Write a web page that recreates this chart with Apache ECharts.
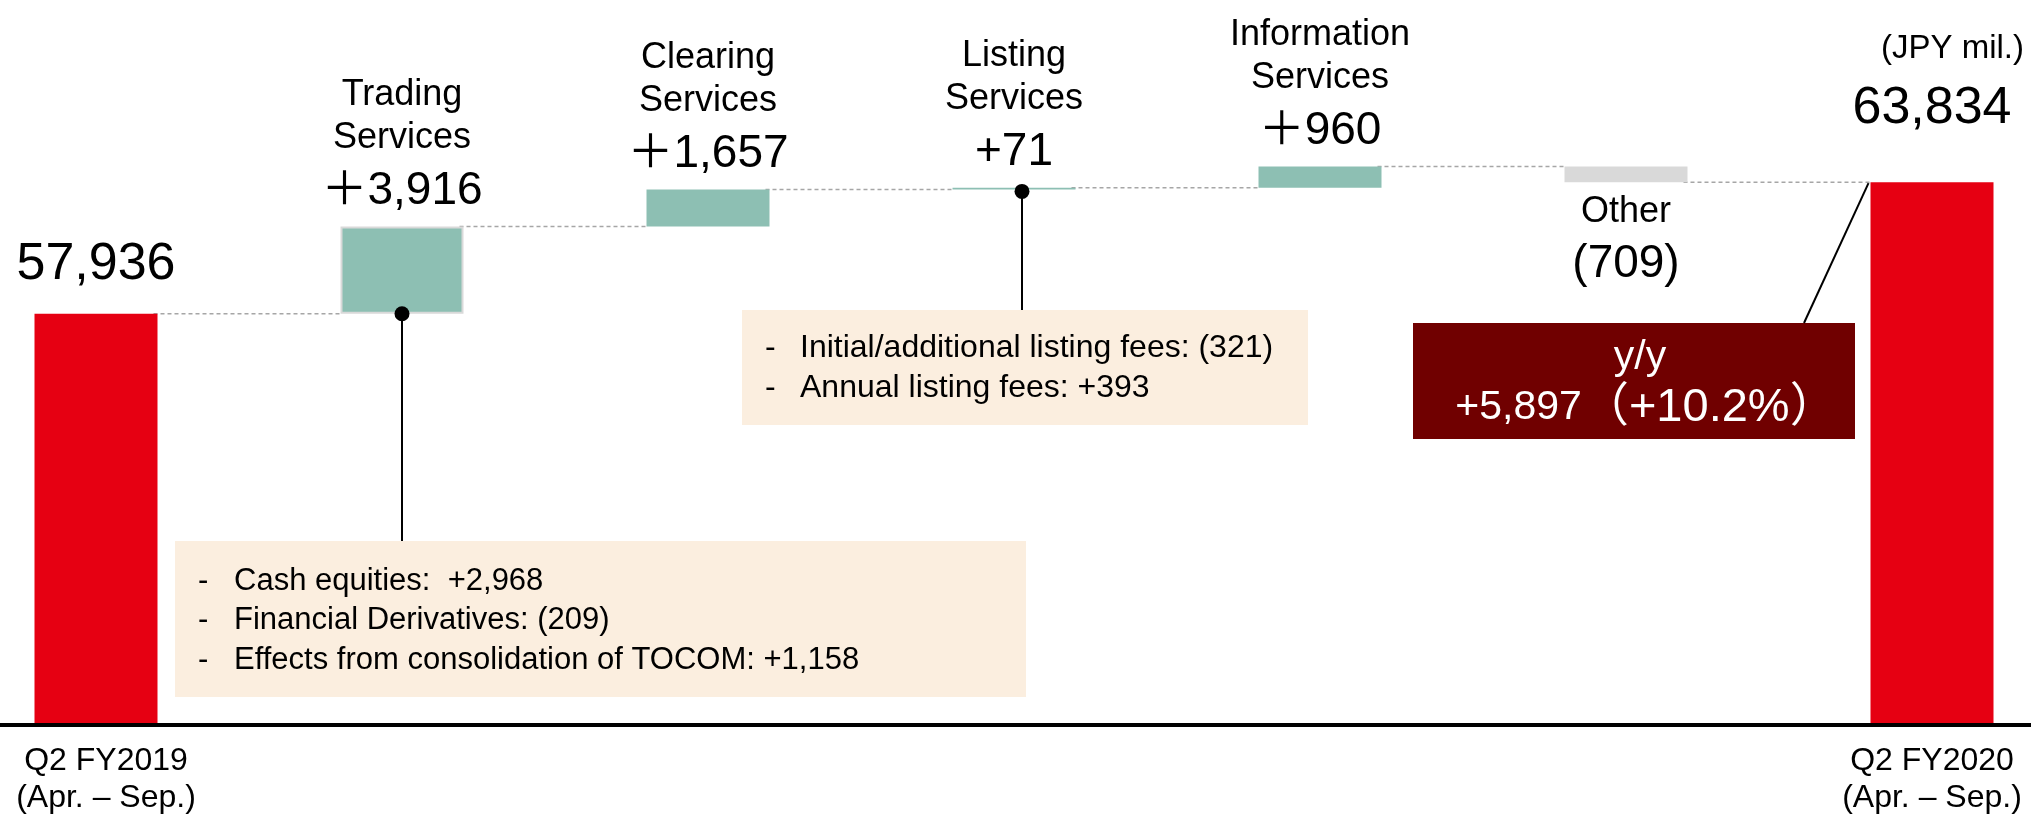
<!DOCTYPE html>
<html>
<head>
<meta charset="utf-8">
<script src="https://cdn.jsdelivr.net/npm/echarts@6/dist/echarts.min.js"></script>
<style>
  html, body { margin: 0; padding: 0; background: #fff; }
  #chart { width: 2031px; height: 816px; }
</style>
</head>
<body>
<div id="chart"></div>
<script>
const categories = ['Q2 FY2019', 'Trading Services', 'Clearing Services', 'Listing Services', 'Information Services', 'Other', 'Q2 FY2020'];
const axisLabelText = ['Q2 FY2019\n(Apr. – Sep.)', '', '', '', '', '', 'Q2 FY2020\n(Apr. – Sep.)'];
const startValue = 57936;
const endValue = 63834;
const deltaValues = [3916, 1657, 71, 960, -709];
const deltaNames = [['Trading', 'Services'], ['Clearing', 'Services'], ['Listing', 'Services'], ['Information', 'Services'], ['Other']];
const deltaText = ['＋3,916', '＋1,657', '+71', '＋960', '(709)'];
const totalText = ['57,936', '63,834'];
const tradingNotes = ['Cash equities:  +2,968', 'Financial Derivatives: (209)', 'Effects from consolidation of TOCOM: +1,158'];
const listingNotes = ['Initial/additional listing fees: (321)', 'Annual listing fees: +393'];
const yoyTitle = 'y/y';
const yoyAmount = '+5,897';
const yoyRate = '（+10.2%）';
const unitText = '(JPY mil.)';

const FONT = "'Liberation Sans', Arial, 'Noto Sans CJK JP', sans-serif";
const RED = '#E60012';
const TEAL = '#8DBFB3';
const GREY = '#D9D9D9';
const BEIGE = '#FBEEDF';
const DARK = '#700000';
const BAR_W = 123;

// running level after each step
const levels = [startValue];
deltaValues.forEach((d, i) => levels.push(levels[i] + d));

const baseData = ['-'];
const deltaData = ['-'];
deltaValues.forEach((d, i) => {
  baseData.push(Math.min(levels[i], levels[i + 1]));
  const neg = d < 0;
  const lines = deltaNames[i].map(n => '{n|' + n + '}');
  lines.push('{v|' + deltaText[i] + '}');
  deltaData.push({
    value: Math.abs(d),
    itemStyle: {
      color: neg ? GREY : TEAL,
      borderColor: i === 0 ? GREY : 'transparent',
      borderWidth: i === 0 ? 2 : 0
    },
    label: {
      position: neg ? 'bottom' : 'top',
      distance: neg ? 8 : 4,
      formatter: lines.join('\n')
    }
  });
});
baseData.push('-');
deltaData.push('-');

const totalData = categories.map(() => '-');
totalData[0] = { value: startValue, label: { distance: 18, formatter: totalText[0] } };
totalData[totalData.length - 1] = { value: endValue, label: { distance: 42, formatter: totalText[1] } };

const connectors = levels.map((lv, i) => [i, lv]);

const chart = echarts.init(document.getElementById('chart'));

chart.setOption({
  animation: false,
  backgroundColor: '#fff',
  textStyle: { fontFamily: FONT },
  grid: { left: -57, right: -54, top: 0, bottom: 91, outerBoundsMode: 'none', containLabel: false },
  xAxis: {
    type: 'category',
    data: categories.map((c, i) => (i === 0 ? { value: c, textStyle: { padding: [0, 0, 0, 20] } } : c)),
    z: 10,
    axisLine: { lineStyle: { color: '#000', width: 4 } },
    axisTick: { show: false },
    axisLabel: {
      interval: 0,
      margin: 18,
      color: '#000',
      fontSize: 32,
      lineHeight: 37,
      fontFamily: FONT,
      formatter: (v, idx) => axisLabelText[idx]
    },
    splitLine: { show: false }
  },
  yAxis: {
    type: 'value',
    min: 39500,
    max: 72000,
    show: false,
    splitLine: { show: false }
  },
  series: [
    {
      name: 'base',
      type: 'bar',
      stack: 'w',
      barWidth: BAR_W,
      itemStyle: { color: 'transparent' },
      emphasis: { disabled: true },
      data: baseData
    },
    {
      name: 'change',
      type: 'bar',
      stack: 'w',
      barWidth: BAR_W,
      label: {
        show: true,
        color: '#000',
        align: 'center',
        rich: {
          n: { fontSize: 36, lineHeight: 43, fontFamily: FONT, color: '#000' },
          v: { fontSize: 46, lineHeight: 63, fontFamily: FONT, color: '#000' }
        }
      },
      data: deltaData
    },
    {
      name: 'total',
      type: 'bar',
      stack: 'w',
      barWidth: BAR_W,
      itemStyle: { color: RED },
      label: {
        show: true,
        position: 'top',
        color: '#000',
        fontSize: 52,
        lineHeight: 63,
        fontFamily: FONT
      },
      data: totalData
    },
    {
      name: 'connector',
      type: 'custom',
      z: 1,
      silent: true,
      encode: { x: 0, y: 1 },
      renderItem: (params, api) => {
        const i = api.value(0);
        const lv = api.value(1);
        const p1 = api.coord([i, lv]);
        const p2 = api.coord([i + 1, lv]);
        return {
          type: 'line',
          shape: { x1: p1[0] + BAR_W / 2 - 4, y1: p1[1], x2: p2[0] - BAR_W / 2, y2: p2[1] },
          style: { stroke: '#A6A6A6', lineWidth: 1.5, lineDash: [4, 3] }
        };
      },
      data: connectors
    }
  ]
});

// call-out boxes anchored to the chart coordinates
const tradingDot = chart.convertToPixel({ gridIndex: 0 }, [1, levels[0]]);
const listingDot = chart.convertToPixel({ gridIndex: 0 }, [3, levels[2]]);
const endTop = chart.convertToPixel({ gridIndex: 0 }, [6, endValue]);
const lx = listingDot[0] + 8;
const ly = listingDot[1] + 2;

function noteLines(list, dashX, textX, firstY, step, size) {
  const out = [];
  list.forEach((t, i) => {
    const y = firstY + i * step;
    out.push({ type: 'text', x: dashX, y: y, z: 20, style: { text: '-', font: size + 'px ' + FONT, fill: '#000', verticalAlign: 'middle' } });
    out.push({ type: 'text', x: textX, y: y, z: 20, style: { text: t, font: size + 'px ' + FONT, fill: '#000', verticalAlign: 'middle' } });
  });
  return out;
}

const graphics = [
  { type: 'rect', z: 15, shape: { x: 175, y: 541, width: 851, height: 156 }, style: { fill: BEIGE } },
  { type: 'line', z: 16, shape: { x1: tradingDot[0], y1: tradingDot[1], x2: tradingDot[0], y2: 541 }, style: { stroke: '#000', lineWidth: 2 } },
  { type: 'circle', z: 16, shape: { cx: tradingDot[0], cy: tradingDot[1], r: 7.5 }, style: { fill: '#000' } },
  ...noteLines(tradingNotes, 198, 234, 581, 39.5, 31),

  { type: 'rect', z: 15, shape: { x: 742, y: 310, width: 566, height: 115 }, style: { fill: BEIGE } },
  { type: 'line', z: 16, shape: { x1: lx, y1: ly, x2: lx, y2: 310 }, style: { stroke: '#000', lineWidth: 2 } },
  { type: 'circle', z: 16, shape: { cx: lx, cy: ly, r: 7.5 }, style: { fill: '#000' } },
  ...noteLines(listingNotes, 765, 800, 348, 40, 32),

  { type: 'rect', z: 15, shape: { x: 1413, y: 323, width: 442, height: 116 }, style: { fill: DARK } },
  { type: 'line', z: 16, shape: { x1: 1804, y1: 323, x2: endTop[0] - BAR_W / 2 - 2, y2: endTop[1] + 1 }, style: { stroke: '#000', lineWidth: 2 } },
  { type: 'text', z: 20, x: 1640, y: 358, style: { text: yoyTitle, font: '41px ' + FONT, fill: '#fff', align: 'center', verticalAlign: 'middle' } },
  {
    type: 'text', z: 20, x: 1646, y: 408,
    style: {
      text: '{a|' + yoyAmount + '}{b|' + yoyRate + '}',
      align: 'center',
      verticalAlign: 'middle',
      rich: {
        a: { fontSize: 41, fontFamily: FONT, fill: '#fff', color: '#fff' },
        b: { fontSize: 47, fontFamily: FONT, fill: '#fff', color: '#fff' }
      }
    }
  },

  { type: 'text', z: 20, x: 2024, y: 49, style: { text: unitText, font: '33px ' + FONT, fill: '#000', align: 'right', verticalAlign: 'middle' } }
];

chart.setOption({ graphic: graphics });
</script>
</body>
</html>
